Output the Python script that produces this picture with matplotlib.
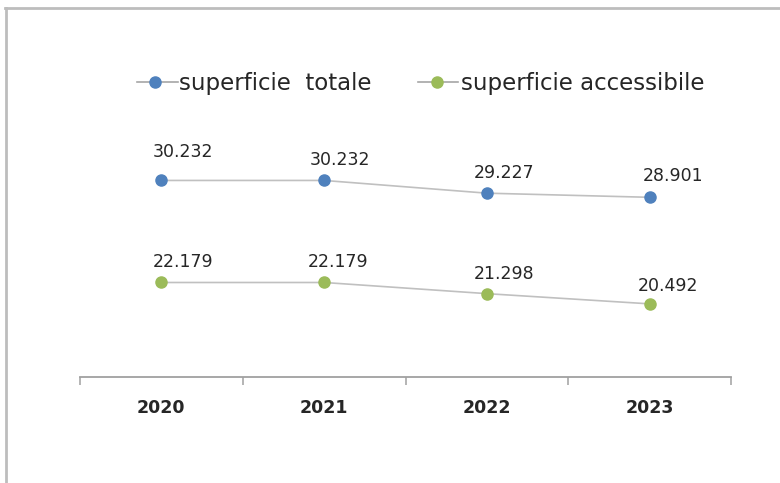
import matplotlib
matplotlib.use("Agg")
import matplotlib.pyplot as plt
from matplotlib.lines import Line2D

years = ["2020", "2021", "2022", "2023"]
totale = [30.232, 30.232, 29.227, 28.901]
accessibile = [22.179, 22.179, 21.298, 20.492]
labels_totale = ["30.232", "30.232", "29.227", "28.901"]
labels_access = ["22.179", "22.179", "21.298", "20.492"]
series_names = ["superficie  totale", "superficie accessibile"]

# label offsets in pixels (layout only)
off_totale = [(22, 28), (16, 20), (17, 20), (23, 21)]
off_access = [(22, 20), (14, 20), (17, 20), (18, 18)]

W, H = 780, 483
fig = plt.figure(figsize=(W / 100, H / 100), dpi=100)
fig.patch.set_facecolor("white")

def fx(px):
    return px / W

def fy(py):
    return 1 - py / H

# outer frame (top and left)
fig.add_artist(Line2D([fx(5), 1], [fy(8), fy(8)], color="#BDBDBD", lw=2, transform=fig.transFigure))
fig.add_artist(Line2D([fx(5.5), fx(5.5)], [0, fy(8)], color="#BDBDBD", lw=2, transform=fig.transFigure))

ax = fig.add_axes([fx(80), fy(377), (731 - 80) / W, (377 - 118) / H])
x = list(range(len(years)))
blue = "#4F81BD"
green = "#9BBB59"
line_gray = "#C0C0C0"
ax.plot(x, totale, color=line_gray, lw=1.2, marker="o", markersize=8,
        markerfacecolor=blue, markeredgecolor=blue, zorder=3)
ax.plot(x, accessibile, color=line_gray, lw=1.2, marker="o", markersize=8,
        markerfacecolor=green, markeredgecolor=green, zorder=3)

for xi, v, t, o in zip(x, totale, labels_totale, off_totale):
    ax.annotate(t, (xi, v), xytext=o, textcoords="offset pixels",
                ha="center", va="center", fontsize=12.5, color="#262626")
for xi, v, t, o in zip(x, accessibile, labels_access, off_access):
    ax.annotate(t, (xi, v), xytext=o, textcoords="offset pixels",
                ha="center", va="center", fontsize=12.5, color="#262626")

ax.set_xlim(-0.5, len(years) - 0.5)
ax.set_ylim(14.72, 35.16)
ax.set_yticks([])
for s in ["top", "right", "left"]:
    ax.spines[s].set_visible(False)
ax.spines["bottom"].set_color("#A0A0A0")
ax.spines["bottom"].set_linewidth(1.3)
ax.set_xticks([i - 0.5 for i in range(len(years) + 1)])
ax.set_xticklabels([])
ax.tick_params(axis="x", length=6, color="#A0A0A0", width=1.1)
ax.set_xticks(x, minor=True)
ax.set_xticklabels(years, minor=True, fontsize=12.5, fontweight="bold", color="#262626")
ax.tick_params(axis="x", which="minor", length=0, pad=16)

# legend
leg_items = [
    (137, 178, 155, 179, blue, series_names[0]),
    (418, 458, 437, 461, green, series_names[1]),
]
ly = 82
for x0, x1, xm, xt, c, name in leg_items:
    fig.add_artist(Line2D([fx(x0), fx(x1)], [fy(ly), fy(ly)], color="#A6A6A6", lw=1.2,
                          transform=fig.transFigure))
    fig.add_artist(Line2D([fx(xm)], [fy(ly)], marker="o", markersize=8, color=c,
                          markerfacecolor=c, markeredgecolor=c, transform=fig.transFigure))
    fig.text(fx(xt), fy(ly + 1), name, ha="left", va="center", fontsize=16.5, color="#262626")

fig.savefig("out.png", dpi=100, facecolor="white")
